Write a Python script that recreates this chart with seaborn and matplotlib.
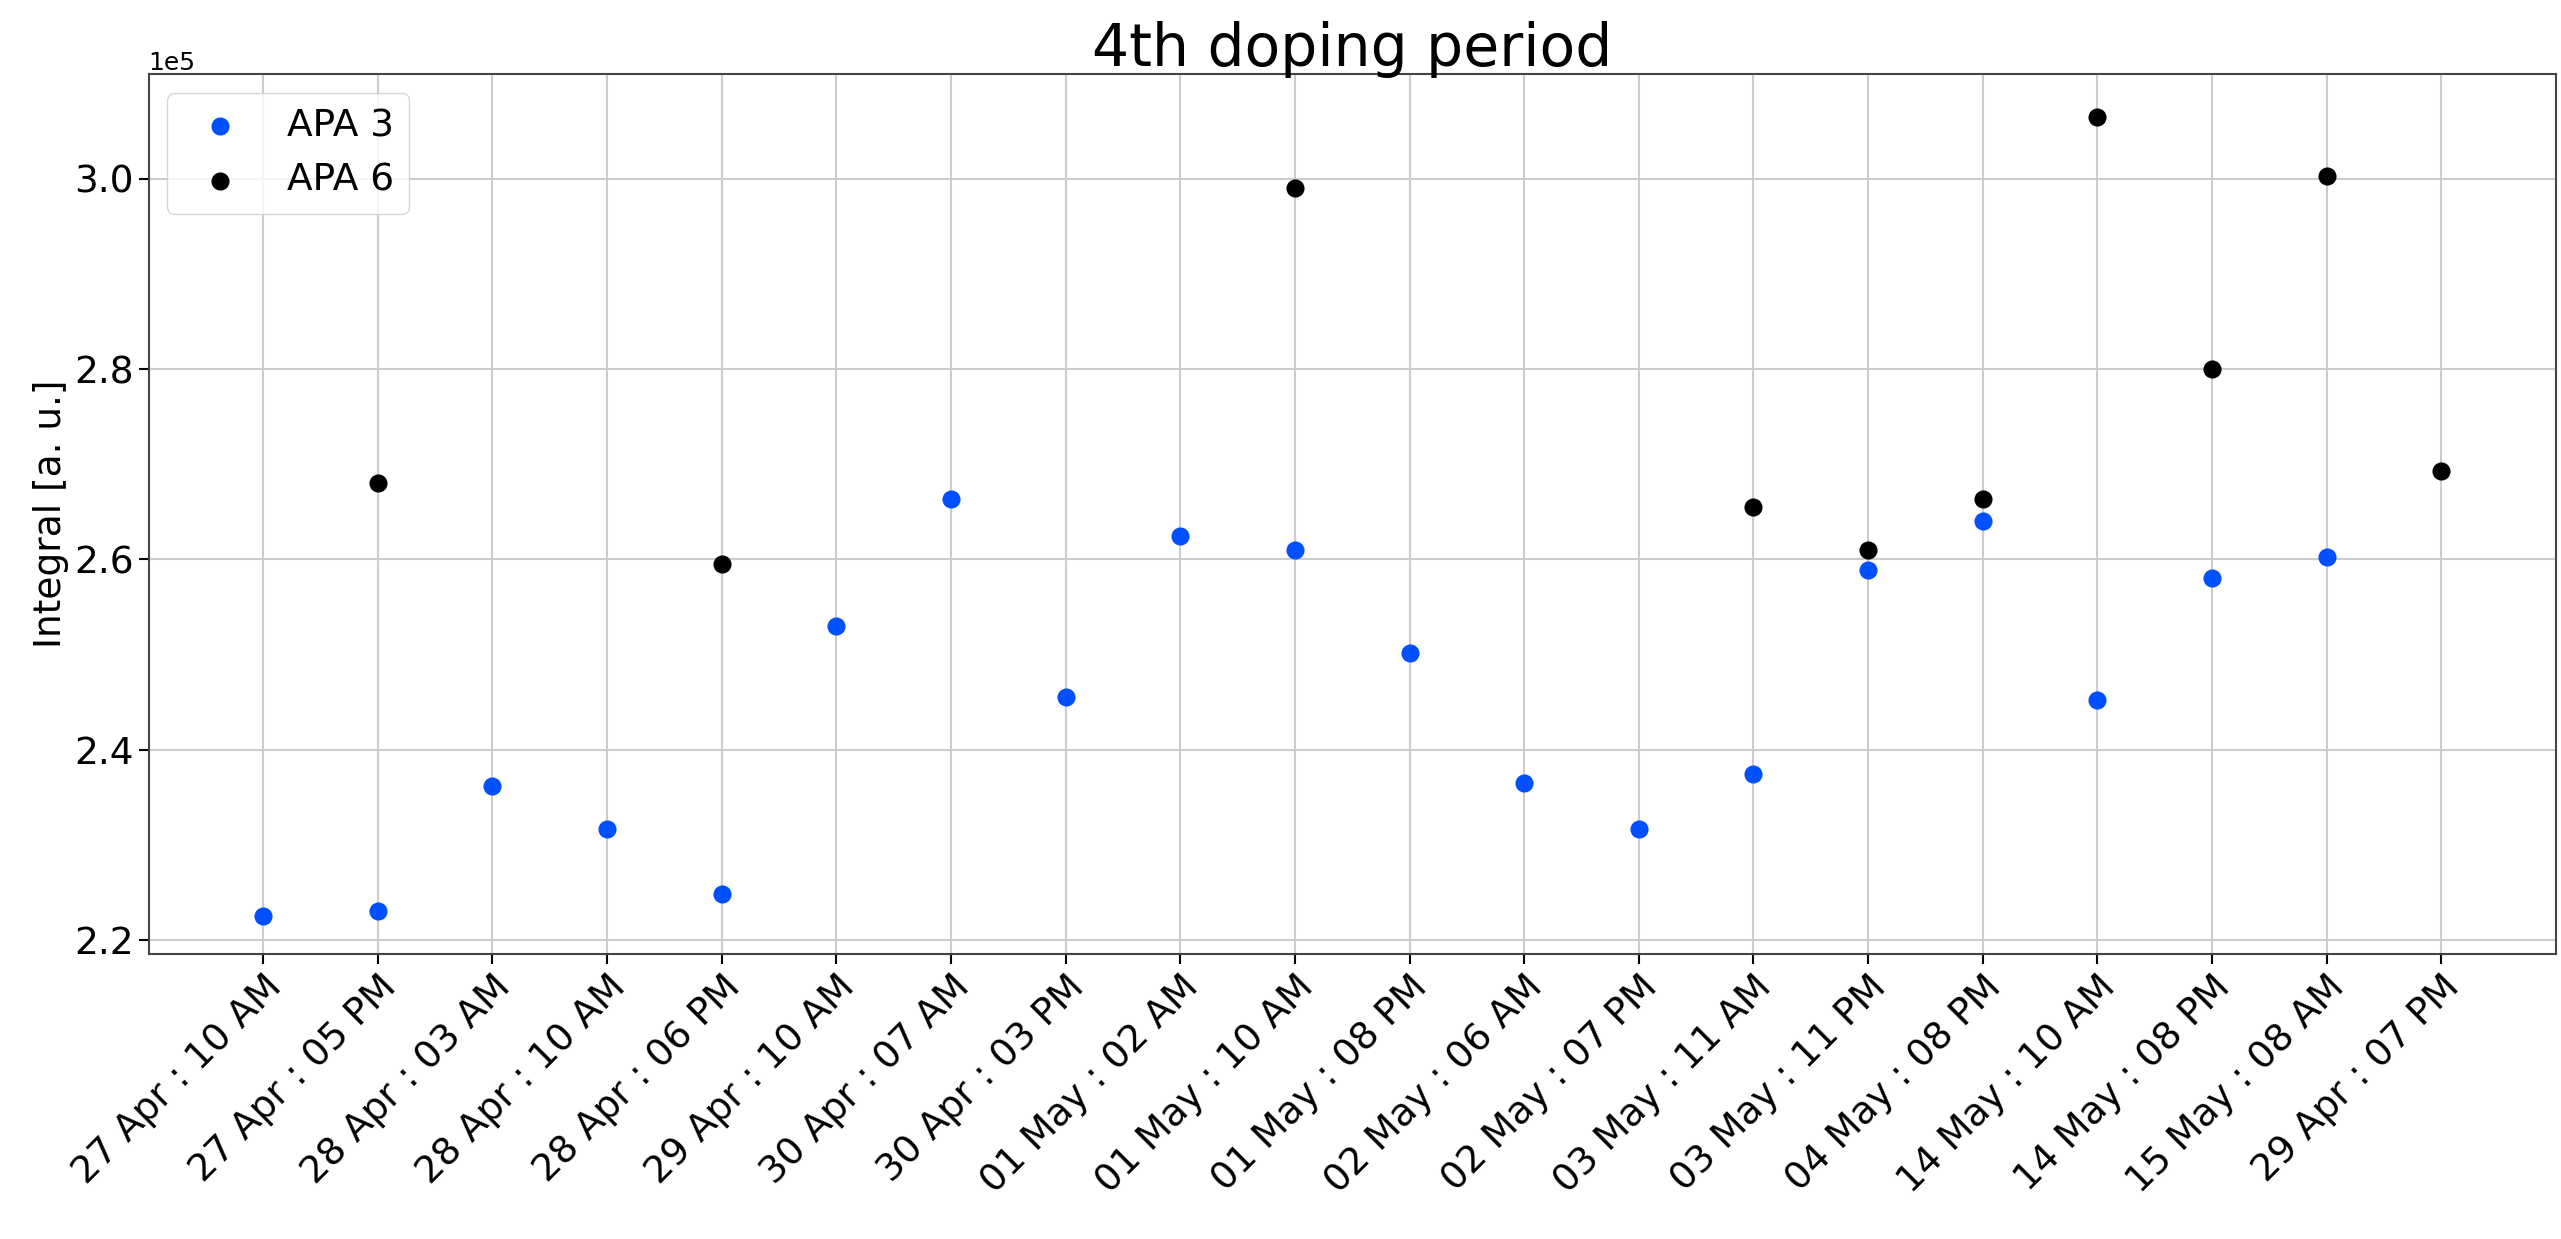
import numpy as np
import pandas as pd
import matplotlib
matplotlib.use("Agg")
import matplotlib.pyplot as plt
import seaborn as sns

labels = ["27 Apr : 10 AM", "27 Apr : 05 PM", "28 Apr : 03 AM", "28 Apr : 10 AM",
          "28 Apr : 06 PM", "29 Apr : 10 AM", "30 Apr : 07 AM", "30 Apr : 03 PM",
          "01 May : 02 AM", "01 May : 10 AM", "01 May : 08 PM", "02 May : 06 AM",
          "02 May : 07 PM", "03 May : 11 AM", "03 May : 11 PM", "04 May : 08 PM",
          "14 May : 10 AM", "14 May : 08 PM", "15 May : 08 AM", "29 Apr : 07 PM"]
apa3 = [2.225, 2.230, 2.362, 2.316, 2.248, 2.530, 2.663, 2.455, 2.625, 2.610,
        2.502, 2.365, 2.316, 2.374, 2.589, 2.640, 2.452, 2.580, 2.602, np.nan]
apa6 = [np.nan, 2.680, np.nan, np.nan, 2.595, np.nan, np.nan, np.nan, np.nan, 2.990,
        np.nan, np.nan, np.nan, 2.655, 2.610, 2.663, 3.065, 2.800, 3.003, 2.693]

df = pd.DataFrame({"idx": np.arange(len(labels)),
                   "APA 3": np.array(apa3) * 1e5,
                   "APA 6": np.array(apa6) * 1e5})

sns.set_style("whitegrid")
plt.rcParams['font.family'] = ['DejaVu Sans']
plt.rcParams['text.color'] = 'black'
fig = plt.figure(figsize=(25.61, 12.39), dpi=100)
ax = fig.add_axes([0.058, 0.23, 0.94, 0.71])

sns.scatterplot(data=df, x="idx", y="APA 3", color="#0050ff", s=170, linewidth=0,
                label="APA 3", ax=ax, zorder=3)
sns.scatterplot(data=df, x="idx", y="APA 6", color="black", s=170, linewidth=0,
                label="APA 6", ax=ax, zorder=3)

ax.set_xticks(df["idx"])
ax.set_xticklabels(labels, rotation=45, ha="right", rotation_mode="anchor", fontsize=27)
ax.tick_params(axis="both", labelsize=27, colors="black", direction="out",
               length=7, width=1.5, left=True, bottom=True)
ax.set_xlim(-1, 20)
ax.set_ylim(2.185e5, 3.11e5)
ax.ticklabel_format(axis="y", style="sci", scilimits=(0, 0))
ax.yaxis.get_offset_text().set_fontsize(18)
ax.set_xlabel("")
ax.set_ylabel("Integral [a. u.]", fontsize=27, color="black")
ax.set_title("4th doping period", fontsize=42, color="black")
ax.grid(True, color="#cccccc", linewidth=1.5)
for sp in ax.spines.values():
    sp.set_color("#444444")
    sp.set_linewidth(1.5)
ax.legend(loc="upper left", fontsize=27, frameon=True, edgecolor="#cccccc")

fig.savefig("out.png", dpi=100)
